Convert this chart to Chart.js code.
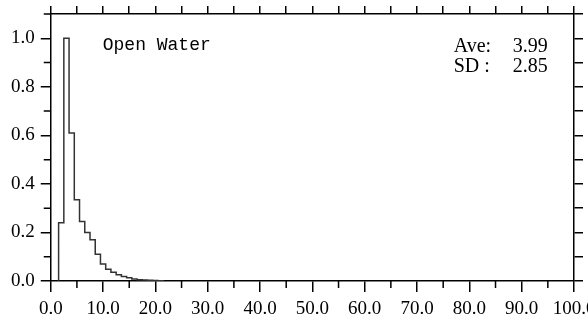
<!DOCTYPE html>
<html>
<head>
<meta charset="utf-8">
<script src="https://cdn.jsdelivr.net/npm/chart.js@4/dist/chart.umd.min.js"></script>
<style>
  html, body { margin: 0; padding: 0; background: #fff; overflow: hidden; }
  canvas { display: block; }
</style>
</head>
<body>
<canvas id="chart" width="588" height="316"></canvas>
<script>
// histogram bins (width 1, centred on integers) and normalised frequency
const binCentres = [2, 3, 4, 5, 6, 7, 8, 9, 10, 11, 12, 13, 14, 15, 16, 17, 18, 19, 20, 21];
const frequency = [0.24, 1.0, 0.61, 0.335, 0.245, 0.20, 0.17, 0.11, 0.07, 0.048,
                   0.036, 0.026, 0.019, 0.013, 0.008, 0.005, 0.004, 0.003, 0.002, 0.001];
const xTickLabels = [0, 10, 20, 30, 40, 50, 60, 70, 80, 90, 100];
const yTickLabels = [0, 0.2, 0.4, 0.6, 0.8, 1.0];
const statLabels = ["Ave:", "SD :"];
const statValues = ["3.99", "2.85"];
const title = "Open Water";

const labelFont = { family: "Liberation Serif", size: 19, lineHeight: "16px" };

// step outline: start at left edge of first bin, then right edge of each bin
var points = [{ x: binCentres[0] - 0.5, y: 0 }];
binCentres.forEach(function (c, i) {
  points.push({ x: c + 0.5, y: frequency[i] });
});
points.push({ x: binCentres[binCentres.length - 1] + 0.5, y: 0 });

function isLabel(list, v) {
  return list.some(function (t) { return Math.abs(t - v) < 1e-6; });
}

// let the end labels hang over the canvas edge instead of shrinking the plot
function noEndPadding(scale) {
  scale.paddingLeft = 0;
  scale.paddingRight = 0;
  scale.paddingTop = 0;
  scale.paddingBottom = 0;
}

const minorTicks = {
  id: "minorTicks",
  afterDraw: function (chart) {
    var ctx = chart.ctx;
    var xs = chart.scales.x, ys = chart.scales.y;
    var area = chart.chartArea;
    ctx.save();
    ctx.strokeStyle = "#000";
    ctx.lineWidth = 1.5;
    ctx.beginPath();
    for (var v = 5; v < 100; v += 10) {
      var px = xs.getPixelForValue(v);
      ctx.moveTo(px, area.bottom);
      ctx.lineTo(px, area.bottom + 7);
    }
    for (var k = 1; k <= 11; k += 2) {
      var py = ys.getPixelForValue(k / 10);
      ctx.moveTo(area.left, py);
      ctx.lineTo(area.left - 7, py);
    }
    ctx.stroke();

    // annotations
    ctx.fillStyle = "#000";
    ctx.textBaseline = "alphabetic";
    ctx.font = "18px 'Liberation Mono'";
    ctx.fillText(title, area.left + 52, area.top + 36);
    ctx.font = "20px 'Liberation Serif'";
    for (var i = 0; i < statLabels.length; i++) {
      var y = area.top + 38 + i * 20;
      ctx.textAlign = "left";
      ctx.fillText(statLabels[i], area.left + 403, y);
      ctx.textAlign = "right";
      ctx.fillText(statValues[i], area.left + 497, y);
    }
    ctx.restore();
  }
};

var ctx = document.getElementById("chart").getContext("2d");
var chart = new Chart(ctx, {
  type: "line",
  data: {
    datasets: [{
      data: points,
      stepped: "after",
      borderColor: "#333",
      borderWidth: 1.5,
      pointRadius: 0,
      fill: false,
      xAxisID: "x",
      yAxisID: "y"
    }]
  },
  options: {
    responsive: false,
    animation: false,
    layout: { padding: { top: 6, left: 5, right: 5, bottom: -10 } },
    plugins: { legend: { display: false }, tooltip: { enabled: false } },
    scales: {
      x: {
        type: "linear",
        position: "bottom",
        min: 0,
        max: 100,
        afterFit: noEndPadding,
        ticks: {
          stepSize: 10,
          color: "#000",
          font: labelFont,
          maxRotation: 0,
          padding: 9,
          callback: function (v) { return isLabel(xTickLabels, v) ? v.toFixed(1) : ""; }
        },
        grid: { drawOnChartArea: false, tickLength: 11, color: "#000", lineWidth: 1.5 },
        border: { color: "#000", width: 1.5 }
      },
      x2: {
        type: "linear",
        position: "top",
        min: 0,
        max: 100,
        afterFit: noEndPadding,
        ticks: { stepSize: 5, display: false },
        grid: { drawOnChartArea: false, tickLength: 8, color: "#000", lineWidth: 1.5 },
        border: { color: "#000", width: 1.5 }
      },
      y: {
        min: 0,
        max: 1.1,
        afterFit: noEndPadding,
        ticks: {
          stepSize: 0.2,
          includeBounds: false,
          color: "#000",
          font: labelFont,
          padding: 6,
          callback: function (v) { return isLabel(yTickLabels, v) ? v.toFixed(1) : ""; }
        },
        grid: { drawOnChartArea: false, tickLength: 10, color: "#000", lineWidth: 1.5 },
        border: { color: "#000", width: 1.5 }
      },
      y2: {
        position: "right",
        min: 0,
        max: 1.1,
        afterFit: noEndPadding,
        ticks: { stepSize: 0.1, display: false },
        grid: { drawOnChartArea: false, tickLength: 9, color: "#000", lineWidth: 1.5 },
        border: { color: "#000", width: 1.5 }
      }
    }
  },
  plugins: [minorTicks]
});
</script>
</body>
</html>
